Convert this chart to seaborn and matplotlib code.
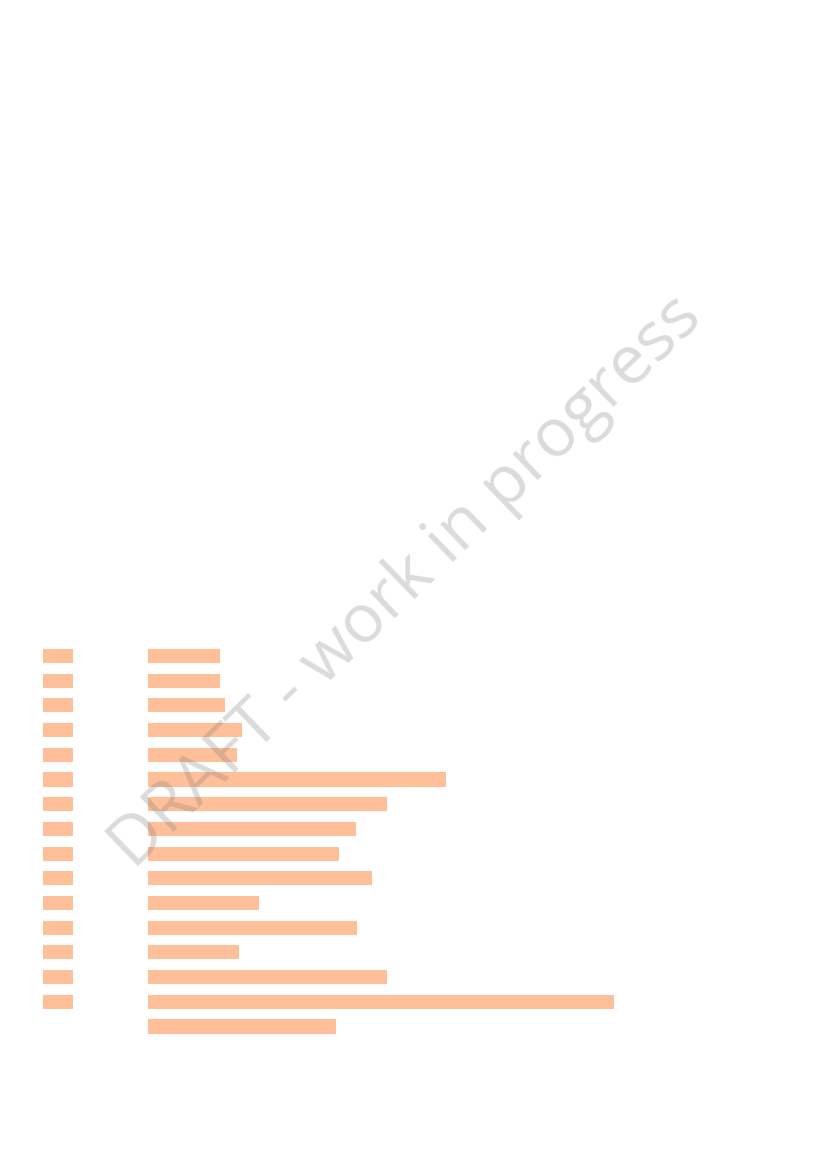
import matplotlib
matplotlib.use("Agg")
import matplotlib.pyplot as plt
import seaborn as sns
import pandas as pd

# bar data (lengths, arbitrary units)
rows = [f"r{i}" for i in range(16)]
values = [72, 71.5, 77, 93.5, 89, 298, 238.5, 207.5, 191, 224, 111, 208.5, 90.5, 239, 465.5, 187.5]
label_rows = rows[:15]
label_values = [30.5] * 15

bar_color = "#FFBF99"
W, H = 827, 1169

sns.set_theme(style="white")
plt.rcParams['font.family'] = ['Open Sans', 'DejaVu Sans']

fig = plt.figure(figsize=(W / 100, H / 100), dpi=100)

# rows: centres at 656 px + 24.7 px per row
top = 656 - 12.35
bottom = 656 + 15.5 * 24.7
ax_h = (bottom - top) / H
ax_y = 1 - bottom / H

df = pd.DataFrame({"row": rows, "value": values})
df_lab = pd.DataFrame({"row": label_rows, "value": label_values})

# label column
ax1 = fig.add_axes([42.5 / W, ax_y, 100 / W, ax_h])
sns.barplot(data=df_lab, y="row", x="value", order=rows, color=bar_color,
            saturation=1, width=0.567, linewidth=0, ax=ax1)
ax1.set_xlim(0, 100)

# value column
ax2 = fig.add_axes([148 / W, ax_y, 600 / W, ax_h])
sns.barplot(data=df, y="row", x="value", order=rows, color=bar_color,
            saturation=1, width=0.567, linewidth=0, ax=ax2)
ax2.set_xlim(0, 600)

for ax in (ax1, ax2):
    ax.set_ylim(15.5, -0.5)
    ax.axis("off")

# watermark
fig.text(407 / W, 1 - 582 / H, "DRAFT - work in progress", fontsize=49,
         fontweight="normal", color="#7a7a7a", alpha=0.27, rotation=44,
         ha="center", va="center", rotation_mode="anchor")

plt.savefig("out.png", dpi=100)
